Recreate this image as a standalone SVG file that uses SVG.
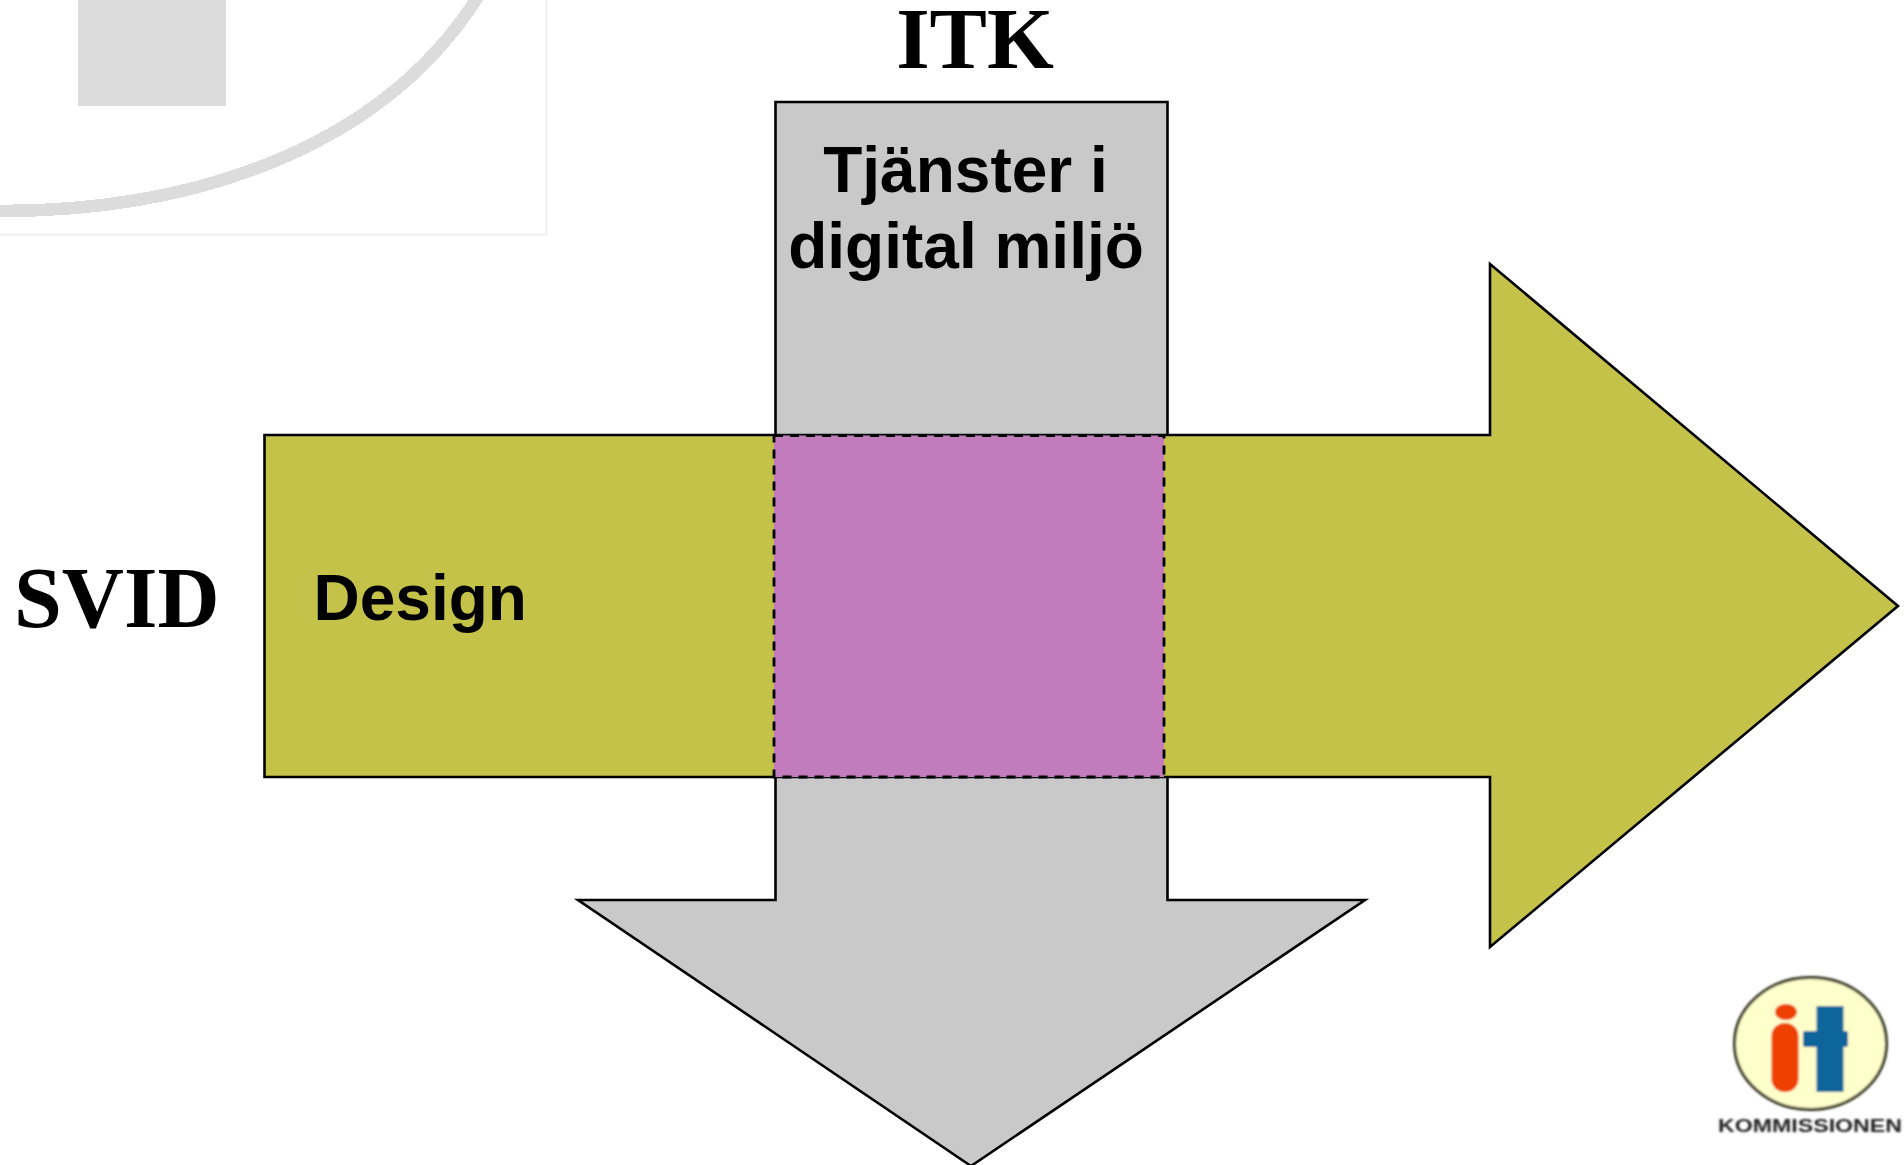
<svg xmlns="http://www.w3.org/2000/svg" width="1904" height="1165" viewBox="0 0 1904 1165">
<defs>
<filter id="soft" x="-5%" y="-5%" width="110%" height="110%"><feGaussianBlur stdDeviation="1"/></filter>
</defs>
<style>
.arrow{stroke:#000;stroke-width:2.6;stroke-linejoin:miter}
.serif{font-family:"Liberation Serif","Times New Roman",serif;font-weight:700;font-size:86px;fill:#000}
.sans{font-family:"Liberation Sans",Arial,sans-serif;font-weight:700;font-size:64px;fill:#000}
</style>
<rect width="1904" height="1165" fill="#fff"/>
<g id="watermark">
<path d="M546.5 0V234.5H0" fill="none" stroke="#efefef" stroke-width="2"/>
<rect x="78" y="0" width="148" height="106" fill="#dcdcdc"/>
<path d="M0 211C200 211 385 145 479 -5" fill="none" stroke="#dcdcdc" stroke-width="12.5" shape-rendering="crispEdges"/>
</g>
<g id="connectors">
<path id="itk-arrow" class="arrow" fill="#c9c9c9" d="M775.5 102H1167.5V900H1365L971 1166L578 900H775.5Z"/>
<path id="svid-arrow" class="arrow" fill="#c4c248" d="M264.5 435H1490V264L1898 606L1490 947V777H264.5Z"/>
</g>
<g id="overlap">
<rect x="774" y="435.5" width="390" height="341.5" fill="#c27bbc" stroke="#000" stroke-width="2.8" stroke-dasharray="9 7"/>
</g>
<g id="itk">
<text class="serif" x="975" y="67.5" text-anchor="middle">ITK</text>
<text class="sans" x="965.5" y="191.5" text-anchor="middle">Tjänster i</text>
<text class="sans" x="966" y="268" text-anchor="middle">digital miljö</text>
</g>
<g id="svid">
<text class="serif" x="14" y="627">SVID</text>
<text class="sans" x="313.5" y="619.5">Design</text>
</g>
<g id="logo" filter="url(#soft)">
<ellipse cx="1810.5" cy="1043.5" rx="76" ry="66" fill="#ffffcc" stroke="#30301a" stroke-width="3"/>
<ellipse cx="1786" cy="1012" rx="11" ry="8" fill="#ee3f00"/>
<rect x="1771.5" y="1023" width="27" height="69" rx="13" fill="#ee3f00"/>
<rect x="1816.5" y="1006" width="27" height="86" fill="#0a659c"/>
<rect x="1803" y="1031" width="45" height="16" rx="2" fill="#0a659c"/>
<text x="1718" y="1132" font-family="'Liberation Sans',Arial,sans-serif" font-weight="700" font-size="19" fill="#222" textLength="184" lengthAdjust="spacingAndGlyphs">KOMMISSIONEN</text>
</g>
</svg>
